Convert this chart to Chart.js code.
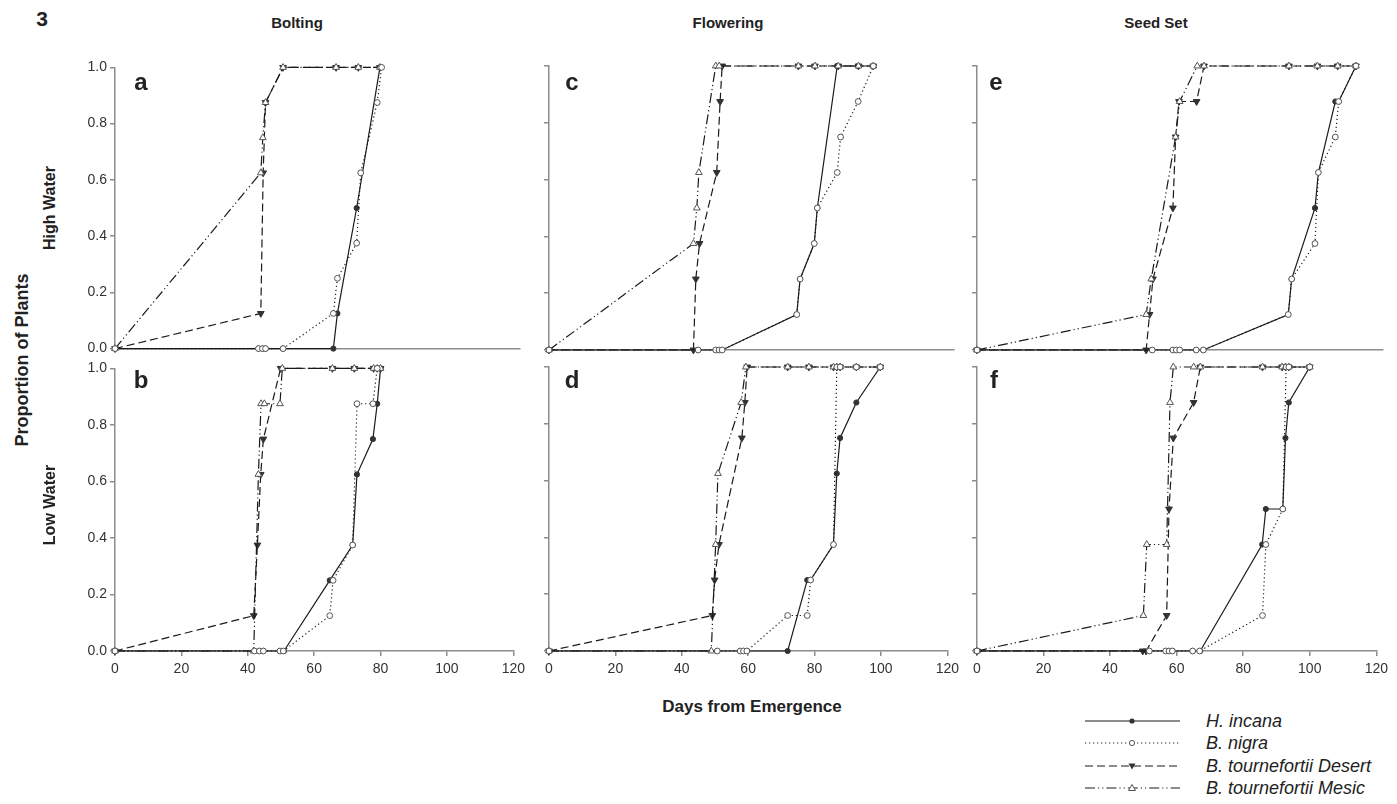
<!DOCTYPE html>
<html>
<head>
<meta charset="utf-8">
<title>Phenology cumulative proportions</title>
<script src="https://cdn.jsdelivr.net/npm/chart.js@4.4.0/dist/chart.umd.min.js"></script>
<style>
  html, body { margin: 0; padding: 0; background: #fff; }
  #fig { position: relative; width: 1397px; height: 804px; overflow: hidden;
         font-family: 'Liberation Sans', Arial, sans-serif; color: #222; }
  #fig canvas { position: absolute; }
  .t { position: absolute; transform: translate(-50%, -50%); white-space: nowrap; line-height: 1; }
  .b { font-weight: bold; }
  .rot { transform: translate(-50%, -50%) rotate(-90deg); }
  .leg { position: absolute; left: 1085px; width: 100px; height: 14px; transform: translateY(-7px); }
  .legtxt { position: absolute; left: 1206px; font-style: italic; font-size: 18px;
            transform: translateY(-50%); white-space: nowrap; line-height: 1; }
</style>
</head>
<body>
<div id="fig">
  <canvas id="pa"></canvas><canvas id="pb"></canvas>
  <canvas id="pc"></canvas><canvas id="pd"></canvas>
  <canvas id="pe"></canvas><canvas id="pf"></canvas>

  <div class="t b" style="left:42px;top:18px;font-size:21px">3</div>
  <div class="t b" style="left:297px;top:22px;font-size:15px">Bolting</div>
  <div class="t b" style="left:728px;top:22px;font-size:15px">Flowering</div>
  <div class="t b" style="left:1156px;top:22px;font-size:15px">Seed Set</div>

  <div class="t b rot" style="left:22px;top:360px;font-size:18px">Proportion of Plants</div>
  <div class="t b rot" style="left:50px;top:208px;font-size:16px">High Water</div>
  <div class="t b rot" style="left:50px;top:505px;font-size:16px">Low Water</div>
  <div class="t b" style="left:752px;top:706px;font-size:17px">Days from Emergence</div>

  <div class="t b" style="left:141px;top:82px;font-size:24px">a</div>
  <div class="t b" style="left:141px;top:380px;font-size:24px">b</div>
  <div class="t b" style="left:572px;top:82px;font-size:24px">c</div>
  <div class="t b" style="left:572px;top:380px;font-size:24px">d</div>
  <div class="t b" style="left:996px;top:82px;font-size:24px">e</div>
  <div class="t b" style="left:994px;top:380px;font-size:24px">f</div>

  <svg class="leg" style="top:721px"><line x1="0" y1="7" x2="95" y2="7" stroke="#1a1a1a" stroke-width="1.2"/><circle cx="47" cy="7" r="2.6" fill="#333"/></svg>
  <div class="legtxt" style="top:721px">H. incana</div>
  <svg class="leg" style="top:743px"><line x1="0" y1="7" x2="95" y2="7" stroke="#1a1a1a" stroke-width="1.2" stroke-dasharray="1.2 2.8"/><circle cx="47" cy="7" r="2.6" fill="#fff" stroke="#555" stroke-width="1"/></svg>
  <div class="legtxt" style="top:743px">B. nigra</div>
  <svg class="leg" style="top:766px"><line x1="0" y1="7" x2="95" y2="7" stroke="#1a1a1a" stroke-width="1.2" stroke-dasharray="8 4"/><polygon points="43.5,4.5 50.5,4.5 47,10.5" fill="#333"/></svg>
  <div class="legtxt" style="top:766px">B. tournefortii Desert</div>
  <svg class="leg" style="top:788px"><line x1="0" y1="7" x2="95" y2="7" stroke="#1a1a1a" stroke-width="1.2" stroke-dasharray="10 3 1.2 3 1.2 3"/><polygon points="47,3.5 50.5,9.5 43.5,9.5" fill="#fff" stroke="#555" stroke-width="1"/></svg>
  <div class="legtxt" style="top:788px">B. tournefortii Mesic</div>
</div>

<script>
'use strict';

// ============================================================
// Data: [day from emergence, proportion of plants]
// ============================================================
// a — Bolting, High Water
const aIncana = [[0,0],[42.5,0],[43.7,0],[44.6,0],[49.8,0],[64.7,0],[65.9,0.125],[71.6,0.5],[78.5,1]];
const aNigra  = [[0,0],[42.5,0],[43.7,0],[44.6,0],[49.8,0],[64.7,0.125],[65.9,0.25],[71.6,0.375],[72.8,0.625],[77.7,0.875],[79,1]];
const aDesert = [[0,0],[43.2,0.125],[43.9,0.625],[44.6,0.875],[49.8,1],[65.5,1],[72.1,1],[78.5,1]];
const aMesic  = [[0,0],[43.2,0.625],[43.8,0.75],[44.6,0.875],[49.8,1],[65.5,1],[72.1,1],[78.5,1]];

// b — Bolting, Low Water
const bIncana = [[0,0],[42,0],[43.5,0],[44.7,0],[49.7,0],[50.9,0],[64.7,0.25],[71.6,0.375],[72.9,0.625],[77.7,0.75],[79,0.875],[80,1]];
const bNigra  = [[0,0],[42,0],[43.5,0],[44.7,0],[49.7,0],[50.7,0],[64.7,0.125],[65.7,0.25],[71.6,0.375],[72.9,0.875],[77.7,0.875],[79,1]];
const bDesert = [[0,0],[41.8,0.125],[42.9,0.375],[43.9,0.625],[44.7,0.75],[49.9,1],[65.5,1],[72.1,1],[77.9,1],[79,1],[80,1]];
const bMesic  = [[0,0],[41.8,0],[43.2,0.625],[44,0.875],[45,0.875],[49.7,0.875],[50.4,1],[65.5,1],[72.1,1],[77.9,1],[79,1],[80,1]];

// c — Flowering, High Water
const cIncana = [[0,0],[44.2,0],[49.4,0],[50.4,0],[51.3,0],[73.4,0.125],[74.4,0.25],[78.6,0.375],[79.5,0.5],[85.4,1],[91.6,1],[96.1,1]];
const cNigra  = [[0,0],[44.2,0],[49.4,0],[50.4,0],[51.3,0],[73.4,0.125],[74.4,0.25],[78.6,0.375],[79.5,0.5],[85.4,0.625],[86.4,0.75],[91.6,0.875],[96.1,1]];
const cDesert = [[0,0],[42.8,0],[43.5,0.25],[44.6,0.375],[49.7,0.625],[50.7,0.875],[51.3,1],[73.9,1],[78.8,1],[85.7,1],[91.7,1],[96.1,1]];
const cMesic  = [[0,0],[42.8,0.375],[43.8,0.5],[44.4,0.625],[49.4,1],[50.4,1],[73.9,1],[78.8,1],[85.7,1],[91.7,1],[96.1,1]];

// d — Flowering, Low Water
const dIncana = [[0,0],[50.7,0],[57.6,0],[58.6,0],[59.6,0],[71.9,0],[77.8,0.25],[78.8,0.25],[85.7,0.375],[86.7,0.625],[87.7,0.75],[92.6,0.875],[99.8,1]];
const dNigra  = [[0,0],[50.7,0],[57.6,0],[58.6,0],[59.6,0],[71.9,0.125],[77.8,0.125],[78.8,0.25],[85.7,0.375],[86.7,1],[87.7,1],[92.6,1],[99.8,1]];
const dDesert = [[0,0],[49.2,0.125],[49.9,0.25],[51.2,0.375],[58.1,0.75],[59,0.875],[59.7,1],[71.9,1],[78.3,1],[85.7,1],[86.7,1],[87.7,1],[92.6,1],[99.8,1]];
const dMesic  = [[0,0],[48.9,0],[50.2,0.375],[50.9,0.625],[57.9,0.875],[59.3,1],[71.9,1],[78.3,1],[85.7,1],[86.7,1],[87.7,1],[92.6,1],[99.8,1]];

// e — Seed Set, High Water
const eIncana = [[0,0],[51.8,0],[57.9,0],[58.9,0],[59.9,0],[64.8,0],[66.9,0],[92,0.125],[93,0.25],[99.9,0.5],[100.9,0.625],[105.9,0.875],[106.9,0.875],[112,1]];
const eNigra  = [[0,0],[51.8,0],[57.9,0],[58.9,0],[59.9,0],[64.8,0],[66.9,0],[92,0.125],[93,0.25],[99.9,0.375],[100.9,0.625],[105.9,0.75],[106.9,0.875],[112,1]];
const eDesert = [[0,0],[50,0],[51,0.125],[52,0.25],[57.9,0.5],[58.7,0.75],[59.7,0.875],[64.9,0.875],[67.1,1],[92.2,1],[100.6,1],[106.6,1],[112,1]];
const eMesic  = [[0,0],[50,0.125],[51.5,0.25],[58.7,0.75],[59.9,0.875],[65.1,1],[67.1,1],[92.2,1],[100.6,1],[106.6,1],[112,1]];

// f — Seed Set, Low Water
const fIncana = [[0,0],[51.8,0],[56.7,0],[57.7,0],[58.7,0],[64.8,0],[67.1,0],[85.7,0.375],[86.8,0.5],[91.9,0.5],[92.7,0.75],[93.7,0.875],[100,1]];
const fNigra  = [[0,0],[51.8,0],[56.7,0],[57.7,0],[58.7,0],[64.8,0],[66.9,0],[85.8,0.125],[86.8,0.375],[91.9,0.5],[92.9,1],[93.7,1],[100,1]];
const fDesert = [[0,0],[49.8,0],[50.8,0],[57,0.125],[57.7,0.5],[59,0.75],[65.1,0.875],[67.1,1],[85.8,1],[91.7,1],[92.7,1],[93.7,1],[100,1]];
const fMesic  = [[0,0],[50,0.125],[51,0.375],[57,0.375],[58,0.875],[59,1],[65.1,1],[67.1,1],[85.8,1],[91.7,1],[92.7,1],[93.7,1],[100,1]];

const xTicksMax = 120;
const xStep = 20;
const yStep = 0.2;

// ============================================================
// Layout (plot-area edges in page pixels)
// ============================================================
const colLeft   = [115, 549, 977];
const colRight  = [520, 954, 1383];
const rowTop    = [66, 367];
const rowBottom = [350, 651];
const Y_AXIS_W = 50;
const X_AXIS_H = 35;
const PAD = 10;

const FONT = "'Liberation Sans', Arial, sans-serif";
const AXIS_GREY = '#8c8c8c';

// Series looks (key order = drawing order, first on top)
const STYLES = {
    nigra:  { borderDash: [1.2, 2.8], pointStyle: 'circle', pointRadius: 2.9,
              pointBackgroundColor: '#fff', pointBorderColor: '#555' },
    mesic:  { borderDash: [10, 3, 1.2, 3, 1.2, 3], pointStyle: 'triangle', pointRadius: 3.9,
              pointBackgroundColor: '#fff', pointBorderColor: '#555' },
    incana: { borderDash: [], pointStyle: 'circle', pointRadius: 2.6,
              pointBackgroundColor: '#333', pointBorderColor: '#333' },
    desert: { borderDash: [8, 4], pointStyle: 'triangle', pointRotation: 180, pointRadius: 3.9,
              pointBackgroundColor: '#333', pointBorderColor: '#333' }
};

function toXY(pairs) {
    return pairs.map(p => ({ x: p[0], y: p[1] }));
}

function makePanel(id, col, row, series) {
    const isBottom = row === 1;
    const plotW = colRight[col] - colLeft[col];
    const plotH = rowBottom[row] - rowTop[row];
    const w = plotW + Y_AXIS_W + PAD;
    const h = plotH + PAD + (isBottom ? X_AXIS_H : PAD);

    const canvas = document.getElementById(id);
    canvas.width = w; canvas.height = h;
    canvas.style.width = w + 'px'; canvas.style.height = h + 'px';
    canvas.style.left = (colLeft[col] - Y_AXIS_W) + 'px';
    canvas.style.top = (rowTop[row] - PAD) + 'px';

    const datasets = Object.keys(series).map(key => Object.assign({
        data: toXY(series[key]),
        borderColor: '#1a1a1a',
        borderWidth: 1.2,
        pointBorderWidth: 1,
        tension: 0,
        clip: false,
        fill: false
    }, STYLES[key]));

    new Chart(canvas, {
        type: 'line',
        data: { datasets },
        options: {
            responsive: false,
            animation: false,
            events: [],
            layout: { padding: { top: PAD, right: PAD, bottom: isBottom ? 0 : PAD, left: 0 } },
            plugins: { legend: { display: false }, tooltip: { enabled: false } },
            scales: {
                x: {
                    type: 'linear', min: 0, max: xTicksMax,
                    afterFit: s => { s.height = isBottom ? X_AXIS_H : 0; },
                    ticks: { stepSize: xStep, display: isBottom, color: '#333', padding: 5,
                             maxRotation: 0, autoSkip: false, font: { family: FONT, size: 14 } },
                    grid: { display: isBottom, drawOnChartArea: false, drawTicks: true,
                            tickLength: 5, color: AXIS_GREY, lineWidth: 1.5 },
                    border: { display: true, color: AXIS_GREY, width: 1.5 }
                },
                y: {
                    min: 0, max: 1,
                    afterFit: s => { s.width = Y_AXIS_W; },
                    ticks: { stepSize: yStep, display: col === 0, color: '#333', padding: 3,
                             callback: v => v.toFixed(1), font: { family: FONT, size: 14 } },
                    grid: { display: true, drawOnChartArea: false, drawTicks: true,
                            tickLength: 5, color: AXIS_GREY, lineWidth: 1.5 },
                    border: { display: true, color: AXIS_GREY, width: 1.5 }
                }
            }
        }
    });
}

document.addEventListener('DOMContentLoaded', () => {
    makePanel('pa', 0, 0, { nigra: aNigra, mesic: aMesic, incana: aIncana, desert: aDesert });
    makePanel('pb', 0, 1, { nigra: bNigra, mesic: bMesic, incana: bIncana, desert: bDesert });
    makePanel('pc', 1, 0, { nigra: cNigra, mesic: cMesic, incana: cIncana, desert: cDesert });
    makePanel('pd', 1, 1, { nigra: dNigra, mesic: dMesic, incana: dIncana, desert: dDesert });
    makePanel('pe', 2, 0, { nigra: eNigra, mesic: eMesic, incana: eIncana, desert: eDesert });
    makePanel('pf', 2, 1, { nigra: fNigra, mesic: fMesic, incana: fIncana, desert: fDesert });
});
</script>
</body>
</html>
